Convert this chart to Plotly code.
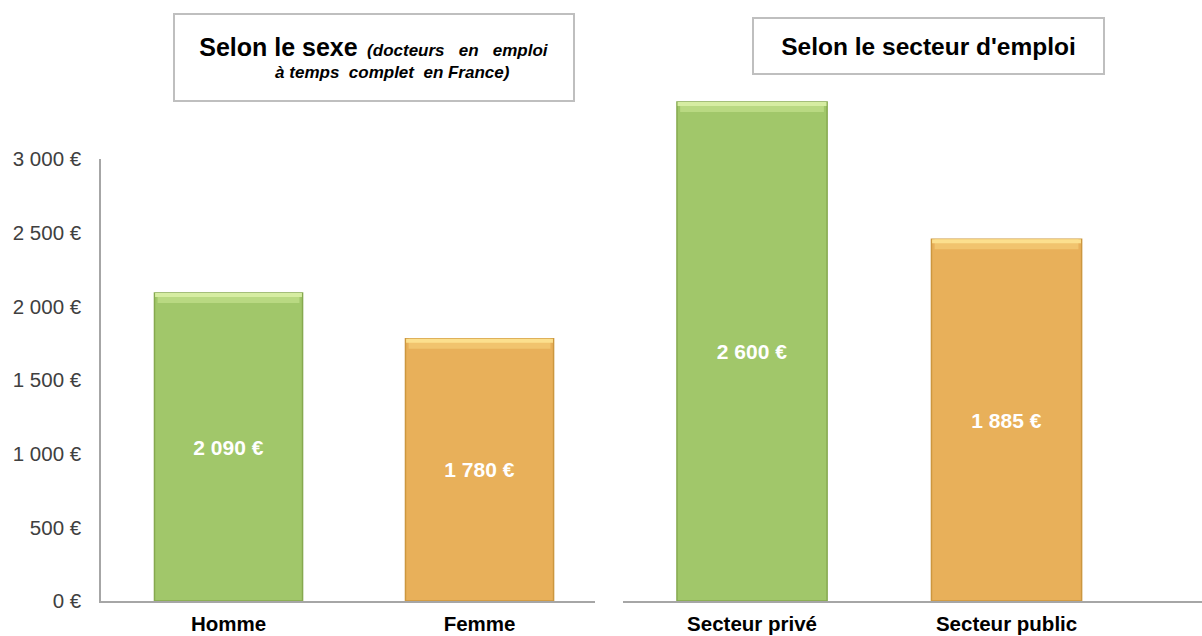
import plotly.graph_objects as go

# ---- data ----
sex_categories = ["Homme", "Femme"]
sex_values = [2090, 1780]
sector_categories = ["Secteur privé", "Secteur public"]
sector_values = [2600, 1885]
y_tickvals = [0, 500, 1000, 1500, 2000, 2500, 3000]
y_ticktext = [f"{v:,}".replace(",", " ") + " €" for v in y_tickvals]

FONT = "Liberation Sans, Arial, sans-serif"
W, H = 1202, 636

bar_colors = ["#A1C76A", "#E8B05A"]
edge_colors = ["#86A94F", "#CC973F"]
mid_colors = ["#B9D982", "#F1C46E"]
top_colors = ["#D6EDA2", "#FCE08E"]

fig = go.Figure()


def add_panel(cats, vals, xa, ya, px_per_unit):
    fig.add_trace(go.Bar(
        x=cats, y=vals, xaxis=xa, yaxis=ya, width=0.59,
        marker=dict(color=bar_colors, line=dict(color=edge_colors, width=1.5)),
        texttemplate="%{y:,.0f} €", textposition="inside",
        insidetextanchor="middle", textangle=0,
        textfont=dict(color="white", size=21, family=FONT, weight="bold"),
        hoverinfo="skip", showlegend=False,
    ))
    b1 = 10 / px_per_unit
    b2 = 4 / px_per_unit
    fig.add_trace(go.Bar(
        x=cats, y=[b1] * len(vals), base=[v - b1 for v in vals],
        xaxis=xa, yaxis=ya, width=0.565,
        marker=dict(color=mid_colors, line=dict(width=0)),
        hoverinfo="skip", showlegend=False,
    ))
    fig.add_trace(go.Bar(
        x=cats, y=[b2] * len(vals), base=[v - b2 for v in vals],
        xaxis=xa, yaxis=ya, width=0.585,
        marker=dict(color=top_colors, line=dict(width=0)),
        hoverinfo="skip", showlegend=False,
    ))


add_panel(sex_categories, sex_values, "x", "y", 442 / 3000)
add_panel(sector_categories, sector_values, "x2", "y2", 537.4 / 2800)

axis_line = "#A6A6A6"
cat_font = dict(size=20.5, color="black", family=FONT, weight="bold")
NB = "\u00a0"
fig.update_layout(
    width=W, height=H,
    margin=dict(l=0, r=0, t=0, b=0, autoexpand=False),
    paper_bgcolor="white", plot_bgcolor="white",
    barmode="overlay", separators=", ",
    showlegend=False,
    font=dict(family=FONT),
    xaxis=dict(domain=[101 / W, 595 / W], range=[-0.508, 1.46], anchor="y",
               showline=True, linecolor=axis_line, linewidth=1.5,
               showgrid=False, zeroline=False, ticks="", automargin=False,
               tickfont=cat_font, ticklabelstandoff=4),
    yaxis=dict(domain=[1 - 601 / H, 1 - 159 / H], range=[0, 3000], anchor="x",
               showline=True, linecolor=axis_line, linewidth=1.5,
               showgrid=False, zeroline=False, ticks="", automargin=False,
               tickmode="array", tickvals=y_tickvals, ticktext=y_ticktext,
               tickfont=dict(size=20.5, color="#404040", family=FONT),
               ticklabelstandoff=14),
    xaxis2=dict(domain=[623 / W, 1], range=[-0.507, 1.768], anchor="y2",
                showline=True, linecolor=axis_line, linewidth=1.5,
                showgrid=False, zeroline=False, ticks="", automargin=False,
                tickfont=cat_font, ticklabelstandoff=4),
    yaxis2=dict(domain=[1 - 601 / H, 0.9], range=[0, 2800], anchor="x2",
                visible=False, automargin=False),
    annotations=[
        dict(xref="paper", yref="paper", x=374 / W, y=1 - 57.5 / H,
             xanchor="center", yanchor="middle",
             text=("<span style='font-size:25px'><b>Selon le sexe</b></span>"
                   f"{NB}{NB}<b><i>(docteurs{NB}{NB}{NB}en{NB}{NB}{NB}emploi</i></b><br>"
                   f"{NB * 8}<b><i>à temps{NB}{NB}complet{NB}{NB}en France)</i></b>"),
             showarrow=False, font=dict(size=17, color="black", family=FONT),
             bordercolor="#BFBFBF", borderwidth=2, borderpad=0,
             bgcolor="white", width=398, height=85, align="center"),
        dict(xref="paper", yref="paper", x=928.5 / W, y=1 - 46 / H,
             xanchor="center", yanchor="middle",
             text="<b>Selon le secteur d'emploi</b>",
             showarrow=False, font=dict(size=24.5, color="black", family=FONT),
             bordercolor="#BFBFBF", borderwidth=2, borderpad=0,
             bgcolor="white", width=349, height=54, align="center"),
    ],
)

fig.write_html("out.html",
               config={"displayModeBar": False},
               post_script="document.body.style.margin='0';"
                           "document.body.style.padding='0';")
